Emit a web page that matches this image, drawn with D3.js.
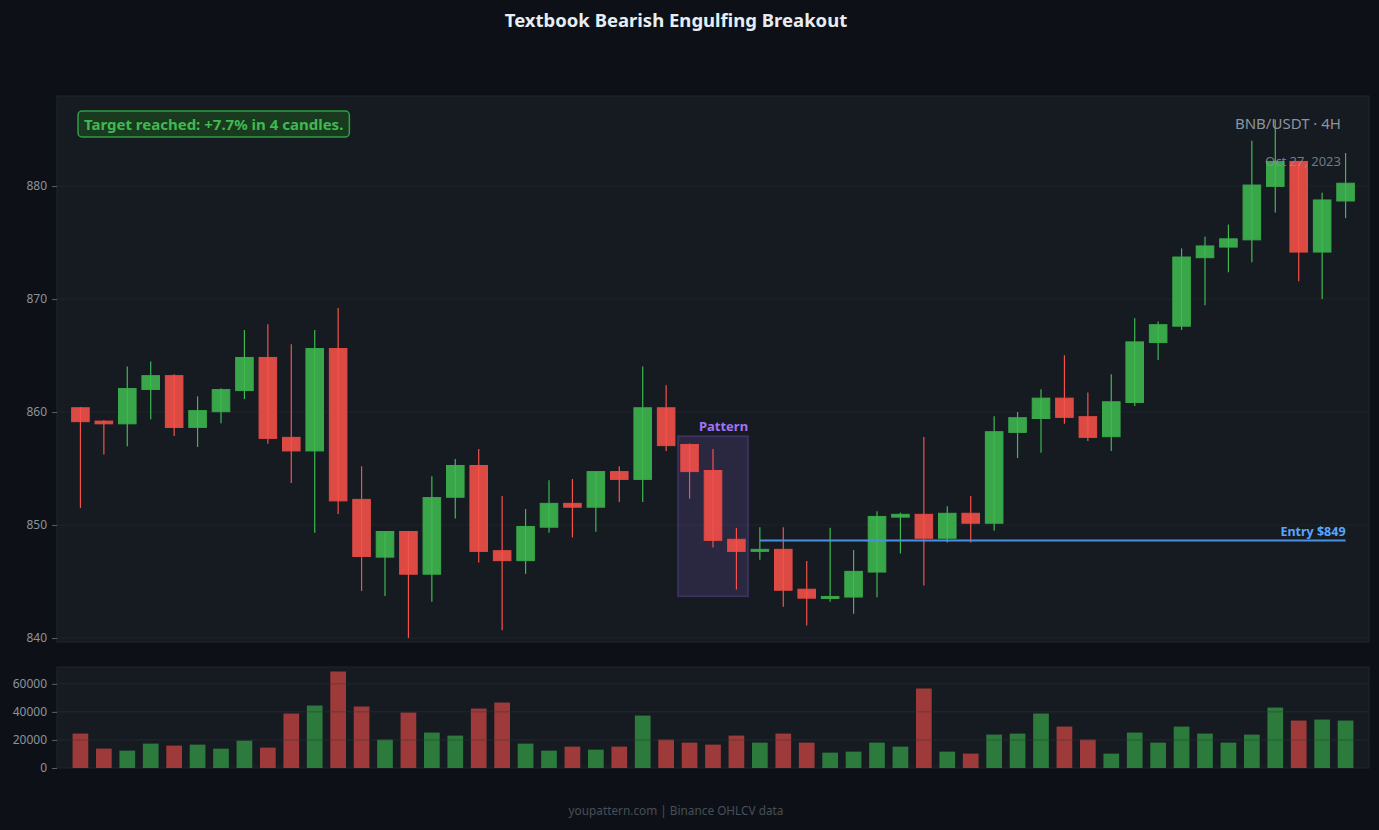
<!DOCTYPE html>
<html><head><meta charset="utf-8">
<script src="https://cdn.jsdelivr.net/npm/d3@7"></script>
<style>
html,body{margin:0;padding:0;background:#0d1117;}
svg{display:block;font-family:"Noto Sans","Open Sans",sans-serif;}
</style></head>
<body>
<svg id="chart" width="1379" height="830"></svg>
<script>
const opens  = [860.38,859.2,858.96,862.0,863.22,858.64,860.03,861.9,864.83,857.76,856.56,865.62,852.27,847.16,849.43,845.65,852.46,855.27,847.73,846.85,849.81,851.92,851.58,854.73,854.04,860.38,857.13,854.83,848.74,847.7,847.85,844.32,843.53,843.63,845.84,850.7,850.95,848.83,851.04,850.16,858.2,859.43,861.23,859.59,857.82,860.85,866.15,867.6,873.66,874.6,875.24,879.97,882.18,874.16,878.68];
const highs  = [860.45,859.3,864.04,864.48,863.34,861.39,862.11,867.26,867.76,865.99,867.26,869.21,855.2,849.45,849.45,854.32,855.84,856.72,852.56,851.42,853.97,854.07,854.75,855.2,864.04,862.37,857.22,856.72,849.75,849.81,849.81,846.81,849.75,847.79,851.23,851.1,857.79,851.67,852.56,859.62,860.0,862.02,865.02,861.73,863.34,868.3,868.01,874.48,875.52,876.59,884.01,885.9,882.2,879.4,882.93];
const lows   = [851.5,856.25,856.97,859.37,857.89,856.91,859.02,861.14,857.19,853.72,849.31,850.98,844.16,843.72,840.0,843.22,850.57,846.69,840.69,845.68,849.31,848.9,849.4,852.05,852.05,856.56,852.33,848.01,844.29,846.94,842.78,841.1,843.22,842.15,843.6,847.48,844.64,848.45,848.45,849.5,855.93,856.4,858.96,857.44,856.56,860.54,864.61,867.26,869.46,872.37,873.25,877.67,871.58,870.0,877.16];
const closes = [859.15,858.96,862.08,863.22,858.64,860.13,861.99,864.83,857.67,856.56,865.62,852.14,847.22,849.43,845.65,852.43,855.27,847.67,846.85,849.87,851.92,851.58,854.73,854.04,860.38,857.03,854.73,848.64,847.67,847.85,844.23,843.53,843.68,845.9,850.76,850.95,848.83,851.04,850.16,858.26,859.5,861.23,859.53,857.76,860.91,866.21,867.73,873.72,874.7,875.33,880.09,882.18,874.16,878.77,880.25];
const volumes = [24524,13810,12381,17381,15952,16667,13810,19524,14524,38810,44524,68810,43810,20238,39524,25238,23095,42381,46667,17381,12381,15238,13095,15238,37381,20238,18095,16667,23095,18095,24524,18095,10952,11667,18095,15238,56667,11667,10238,23810,24524,38810,29524,20238,10238,25238,18095,29524,24524,18095,23810,43095,33810,34524,33810];
const priceTicks = [840,850,860,870,880];
const volumeTicks = [0,20000,40000,60000];
const patternIdx = [26,27,28];      // pattern candles (0-based)
const entryIdx = 27;                // engulfing candle close = entry
const entryEndIdx = 54;
const titleText = "Textbook Bearish Engulfing Breakout";
const targetText = "Target reached: +7.7% in 4 candles.";
const pairText = "BNB/USDT · 4H";
const dateText = "Oct 27, 2023";
const footerText = "youpattern.com | Binance OHLCV data";

const W = 1379, H = 830;
const main = {x0:57, x1:1369, y0:96, y1:642};
const vol = {x0:57, x1:1369, y0:667, y1:768};
const C = {bg:"#0d1117", panel:"#161b22", border:"#21262d", grid:"#1f242b", text:"#8b949e",
  green:"#3fb950", red:"#f85149", greenFill:"#38a849", redFill:"#e24a44", vgreen:"#2d7a3d", vred:"#9e3b3a",
  blue:"#4a90e2", blueText:"#58a6ff", purple:"#a371f7"};

const svg = d3.select("#chart");
svg.append("rect").attr("width",W).attr("height",H).attr("fill",C.bg);

const n = opens.length;
const x = d3.scaleLinear().domain([-1, n]).range([main.x0, main.x1]);
const y = d3.scaleLinear().domain([839.65, 887.97]).range([main.y1, main.y0]);
const yv = d3.scaleLinear().domain([0, 72000]).range([vol.y1, vol.y0]);
const step = x(1) - x(0);
const bodyW = step * 0.75;
const volW = step * 0.67;

// panels
svg.append("rect").attr("x",main.x0).attr("y",main.y0).attr("width",main.x1-main.x0).attr("height",main.y1-main.y0)
  .attr("fill",C.panel).attr("stroke",C.border).attr("stroke-width",1);
svg.append("rect").attr("x",vol.x0).attr("y",vol.y0).attr("width",vol.x1-vol.x0).attr("height",vol.y1-vol.y0)
  .attr("fill",C.panel).attr("stroke",C.border).attr("stroke-width",1);

// grids
svg.append("g").selectAll("line").data(priceTicks).join("line")
  .attr("x1",main.x0).attr("x2",main.x1).attr("y1",d=>y(d)).attr("y2",d=>y(d))
  .attr("stroke",C.grid).attr("stroke-width",1);

// axes
const yAxis = svg.append("g").attr("transform",`translate(${main.x0},0)`)
  .call(d3.axisLeft(y).tickValues(priceTicks).tickSize(5).tickPadding(5));
const vAxis = svg.append("g").attr("transform",`translate(${vol.x0},0)`)
  .call(d3.axisLeft(yv).tickValues(volumeTicks).tickFormat(d3.format("d")).tickSize(5).tickPadding(5));
[yAxis,vAxis].forEach(a=>{
  a.select(".domain").remove();
  a.selectAll(".tick line").attr("stroke",C.text).attr("stroke-opacity",0.6);
  a.selectAll(".tick text").attr("fill",C.text).style("font-size","12px").style("font-family","Noto Sans");
});

// pattern box
const pLo = d3.min(patternIdx, i=>lows[i]) - 0.6;
const pHi = d3.max(patternIdx, i=>highs[i]) + 0.65;
const pX0 = x(patternIdx[0]) - step/2, pX1 = x(patternIdx[patternIdx.length-1]) + step/2;
svg.append("rect").attr("x",pX0).attr("y",y(pHi)).attr("width",pX1-pX0).attr("height",y(pLo)-y(pHi))
  .attr("fill",C.purple).attr("fill-opacity",0.15).attr("stroke",C.purple).attr("stroke-opacity",0.25).attr("stroke-width",1.5);
svg.append("text").attr("x",pX1).attr("y",y(pHi)-5).attr("text-anchor","end")
  .attr("fill",C.purple).style("font-size","13px").style("font-weight","bold").text("Pattern");

// candles
const idx = d3.range(n);
const up = i => closes[i] >= opens[i];
const cg = svg.append("g");
cg.selectAll("line").data(idx).join("line")
  .attr("x1",i=>x(i)).attr("x2",i=>x(i)).attr("y1",i=>y(highs[i])).attr("y2",i=>y(lows[i]))
  .attr("stroke",i=>up(i)?C.green:C.red).attr("stroke-width",1.2);
cg.selectAll("rect").data(idx).join("rect")
  .attr("x",i=>x(i)-bodyW/2).attr("width",bodyW)
  .attr("y",i=>y(Math.max(opens[i],closes[i])))
  .attr("height",i=>Math.max(2, Math.abs(y(opens[i])-y(closes[i]))))
  .attr("fill",i=>up(i)?C.green:C.red).attr("fill-opacity",0.88)
  .attr("stroke",i=>up(i)?C.greenFill:C.redFill).attr("stroke-width",1);

// entry line
const entry = closes[entryIdx];
svg.append("line").attr("x1",x(entryIdx+2)).attr("x2",x(entryEndIdx)).attr("y1",y(entry)).attr("y2",y(entry))
  .attr("stroke",C.blue).attr("stroke-width",2);
svg.append("text").attr("x",x(entryEndIdx)).attr("y",y(entry)-4).attr("text-anchor","end")
  .attr("fill",C.blueText).style("font-size","12.5px").style("font-weight","bold").text(`Entry $${Math.round(entry)}`);

// volume bars + grid
const vg = svg.append("g");
vg.selectAll("rect").data(idx).join("rect")
  .attr("x",i=>x(i)-volW/2).attr("width",volW)
  .attr("y",i=>yv(volumes[i])).attr("height",i=>yv(0)-yv(volumes[i]))
  .attr("fill",i=>up(i)?C.vgreen:C.vred);
svg.append("g").selectAll("line").data(volumeTicks.slice(1)).join("line")
  .attr("x1",vol.x0).attr("x2",vol.x1).attr("y1",d=>yv(d)).attr("y2",d=>yv(d))
  .attr("stroke","#30363d").attr("stroke-opacity",0.5).attr("stroke-width",1);

// labels
svg.append("text").attr("x",1341).attr("y",129).attr("text-anchor","end").attr("fill",C.text)
  .style("font-size","15px").text(pairText);
svg.append("text").attr("x",1341).attr("y",166).attr("text-anchor","end").attr("fill","#8b949e").attr("fill-opacity",0.8)
  .style("font-size","13px").text(dateText);

// target box
const tb = svg.append("g");
const tt = tb.append("text").attr("x",84).attr("y",129.5).attr("fill",C.green)
  .style("font-size","15px").style("font-weight","bold").text(targetText);
const bb = tt.node().getBBox();
tb.insert("rect","text").attr("x",bb.x-6).attr("y",111).attr("width",bb.width+12).attr("height",26).attr("rx",4)
  .attr("fill","#1a3a20").attr("stroke","#2ea043").attr("stroke-width",1.5);

svg.append("text").attr("x",676).attr("y",27).attr("text-anchor","middle").attr("fill","#e6edf3")
  .style("font-size","18.5px").style("font-weight","bold").text(titleText);
svg.append("text").attr("x",676).attr("y",815).attr("text-anchor","middle").attr("fill","#484f58")
  .style("font-size","11.8px").text(footerText);
</script>
</body></html>
